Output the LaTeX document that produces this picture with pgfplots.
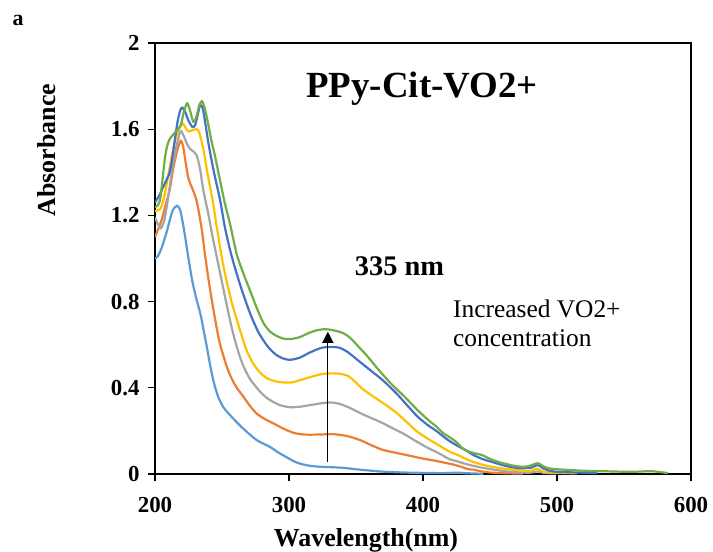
\documentclass[border=0pt]{standalone}
\usepackage{pgfplots}
\pgfplotsset{compat=1.18}
\usepackage{fontspec}
\setmainfont{Liberation Serif}
\usetikzlibrary{arrows.meta}
\definecolor{c1}{HTML}{5B9BD5}
\definecolor{c2}{HTML}{ED7D31}
\definecolor{c3}{HTML}{A5A5A5}
\definecolor{c4}{HTML}{FFC000}
\definecolor{c5}{HTML}{4472C4}
\definecolor{c6}{HTML}{70AD47}
\begin{document}
\begin{tikzpicture}
\begin{axis}[
  at={(0,0)}, anchor=south west,
  scale only axis, width=536bp, height=431bp,
  xmin=200, xmax=600, ymin=0, ymax=2,
  xtick={200,300,400,500,600},
  ytick={0,0.4,0.8,1.2,1.6,2},
  axis x line*=bottom, axis y line*=left,
  axis line style={line width=2.2bp, -},
  tick align=outside, major tick length=7bp,
  tick style={line width=1.2bp, black},
  /pgf/number format/assume math mode=true,
  ticklabel style={font=\bfseries\fontsize{23}{23}\selectfont},
  yticklabel style={xshift=-5bp},
  xticklabel style={yshift=-13bp},
  every axis plot/.append style={line width=2.2bp, smooth, tension=0.45},
]
\addplot[c1] coordinates {(200,1.00)(202,1.01)(205,1.05)(209,1.13)(213,1.22)(216.5,1.245)(219,1.22)(222,1.12)(225,1.00)(228,0.89)(231,0.81)(234,0.74)(236.5,0.66)(239,0.58)(241,0.51)(243.5,0.435)(247,0.36)(251,0.31)(255,0.28)(261,0.24)(267,0.204)(276,0.157)(286,0.125)(292,0.10)(299,0.075)(305,0.055)(312,0.042)(320,0.035)(330,0.032)(340,0.029)(350,0.022)(360,0.016)(370,0.011)(385,0.007)(400,0.005)(415,0.004)(425,0.006)(435,0.003)(445,0.001)};
\addplot[c2] coordinates {(200,1.10)(202,1.13)(205,1.18)(208,1.25)(211,1.32)(214,1.43)(217,1.51)(219.3,1.546)(221,1.52)(223,1.44)(225,1.37)(227.5,1.33)(230,1.29)(232,1.24)(235,1.13)(237.5,1.01)(240,0.90)(243.4,0.77)(246,0.68)(248.6,0.60)(254.6,0.48)(260,0.41)(265.8,0.36)(271,0.315)(276,0.28)(282,0.255)(288,0.236)(296,0.21)(304,0.19)(312,0.183)(322,0.183)(332,0.185)(340,0.18)(346,0.172)(354,0.155)(362,0.132)(370,0.112)(380,0.098)(390,0.085)(398,0.074)(405,0.066)(412,0.058)(418,0.05)(422,0.045)(426,0.038)(430,0.03)(434,0.022)(438,0.02)(442,0.014)(448,0.008)(455,0.005)(465,0.003)(475,0.002)};
\addplot[c3] coordinates {(200,1.19)(204,1.14)(207,1.18)(210,1.29)(213,1.42)(216,1.52)(219,1.59)(221,1.575)(224,1.53)(226,1.51)(229,1.495)(231,1.48)(233.5,1.42)(236,1.32)(240,1.20)(243,1.10)(246,1.01)(250,0.89)(254,0.77)(258,0.66)(262,0.57)(266,0.50)(271,0.44)(278,0.385)(283,0.355)(288,0.335)(294,0.318)(301,0.31)(308,0.312)(316,0.32)(324,0.328)(331,0.332)(338,0.325)(346,0.305)(354,0.28)(362,0.258)(370,0.236)(378,0.21)(386,0.185)(396,0.148)(404,0.12)(410,0.102)(415,0.085)(420,0.068)(425,0.06)(430,0.05)(436,0.04)(442,0.032)(448,0.025)(455,0.018)(462,0.012)(470,0.008)(480,0.006)(486,0.012)(490,0.005)(500,0.003)};
\addplot[c4] coordinates {(200,1.22)(204,1.23)(207,1.29)(210,1.39)(213,1.49)(216,1.57)(219,1.615)(221,1.625)(223,1.605)(225,1.59)(228,1.595)(231,1.60)(233,1.585)(236,1.51)(239,1.40)(243,1.27)(246,1.15)(250,1.00)(254,0.88)(258,0.78)(263.5,0.667)(268,0.58)(273,0.515)(278.5,0.47)(284,0.443)(290,0.43)(296,0.425)(302,0.425)(308,0.435)(316,0.45)(324,0.463)(331,0.467)(338,0.465)(344,0.455)(349,0.43)(354,0.40)(360,0.372)(370,0.33)(380,0.285)(388,0.24)(396,0.195)(404,0.162)(410,0.14)(416,0.117)(421,0.10)(426,0.088)(432,0.07)(438,0.055)(445,0.042)(452,0.033)(460,0.025)(471,0.018)(480,0.014)(485,0.025)(490,0.01)(500,0.006)(515,0.003)};
\addplot[c5] coordinates {(200,1.26)(203,1.29)(206,1.33)(209,1.37)(211,1.40)(213,1.47)(215,1.56)(217,1.64)(219,1.69)(220.5,1.70)(222.5,1.68)(225,1.64)(228,1.61)(230,1.62)(232,1.67)(233.6,1.71)(235.5,1.70)(237.5,1.63)(240,1.53)(244,1.40)(248.6,1.27)(252,1.15)(256,1.04)(260,0.95)(265,0.85)(271,0.745)(277,0.66)(283.7,0.595)(290,0.555)(296,0.535)(301,0.53)(308,0.54)(316,0.565)(324,0.585)(331,0.59)(338,0.585)(344,0.565)(351,0.53)(360,0.485)(370,0.435)(380,0.375)(388,0.32)(396,0.266)(404,0.225)(410,0.20)(415,0.175)(420,0.152)(426,0.13)(432,0.11)(438,0.087)(445,0.068)(452,0.055)(460,0.04)(468,0.03)(475,0.027)(481,0.03)(485.6,0.042)(490,0.025)(497,0.012)(510,0.008)(530,0.004)};
\addplot[c6] coordinates {(200,1.24)(202,1.245)(204,1.28)(206,1.39)(207.5,1.47)(209,1.52)(211,1.555)(215,1.585)(219,1.615)(221.5,1.68)(224,1.72)(226,1.69)(228.5,1.635)(230.5,1.65)(233,1.71)(235,1.73)(237,1.70)(239.5,1.63)(242,1.55)(245,1.47)(248.6,1.36)(252,1.26)(256,1.16)(261,1.02)(266,0.93)(271,0.85)(276,0.77)(281,0.70)(286,0.66)(291,0.64)(296,0.628)(301,0.626)(308,0.635)(315,0.655)(321,0.667)(327,0.672)(333,0.667)(340,0.655)(346,0.63)(352,0.59)(358,0.55)(366,0.49)(376,0.42)(386,0.36)(396,0.296)(404,0.25)(410,0.22)(415,0.19)(420,0.17)(425,0.148)(429,0.122)(433,0.107)(438,0.097)(444,0.088)(450,0.07)(455.7,0.057)(463,0.045)(471,0.035)(478,0.035)(485.6,0.05)(490,0.035)(495,0.025)(505,0.02)(520,0.015)(540,0.012)(555,0.01)(570,0.013)(578,0.008)(583,0.004)};
\draw[line width=1.2bp, -{Triangle[length=11bp,width=11bp]}] (axis cs:329,0.055) -- (axis cs:329,0.66);
\end{axis}
\draw[line width=1.1bp] (0,431bp) -- (536bp,431bp) -- (536bp,0);
\node[font=\bfseries\fontsize{37}{37}\selectfont] at (267bp,385bp) {PPy-Cit-VO2+};
\node[font=\bfseries\fontsize{28.5}{28.5}\selectfont] at (244.5bp,208bp) {335 nm};
\node[font=\fontsize{25.5}{30}\selectfont, anchor=base west, align=left, inner sep=0pt] at (298bp,127bp) {Increased VO2+\\concentration};
\node[font=\bfseries\fontsize{26}{26}\selectfont] at (211bp,-66bp) {Wavelength(nm)};
\node[font=\bfseries\fontsize{26}{26}\selectfont, rotate=90] at (-108bp,324bp) {Absorbance};
\node[font=\bfseries\fontsize{22}{22}\selectfont] at (-137bp,454bp) {a};
\pgfresetboundingbox
\path[use as bounding box] (-155bp,-78bp) rectangle (558bp,474bp);
\end{tikzpicture}
\end{document}
